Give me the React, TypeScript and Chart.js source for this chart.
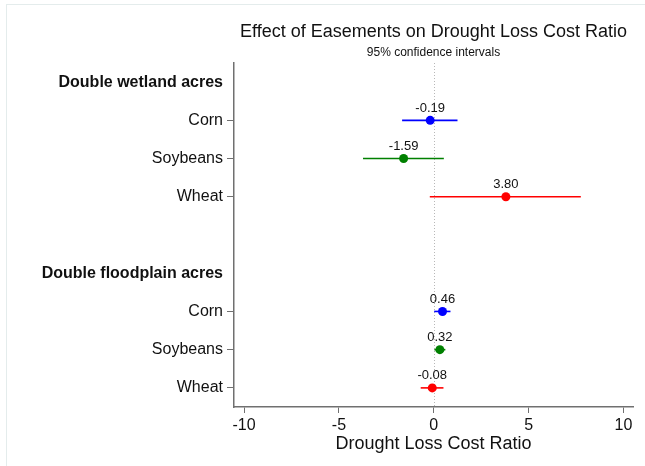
import React, { useEffect, useRef } from 'react';
import { Chart, registerables } from 'chart.js';

Chart.register(...registerables);

// ---- Data ----
const ROW_LABELS = [
  'Double wetland acres',
  'Corn',
  'Soybeans',
  'Wheat',
  '',
  'Double floodplain acres',
  'Corn',
  'Soybeans',
  'Wheat',
];
const HEADER_ROWS = [0, 5];
const CROPS = ['Corn', 'Soybeans', 'Wheat'];
const CROP_COLORS = ['#0000ff', '#008000', '#ff0000'];

const WETLAND_ROWS = [1, 2, 3];
const WETLAND_EST = [-0.19, -1.59, 3.8];
const WETLAND_LOW = [-1.67, -3.73, -0.21];
const WETLAND_HIGH = [1.25, 0.53, 7.75];

const FLOOD_ROWS = [6, 7, 8];
const FLOOD_EST = [0.46, 0.32, -0.08];
const FLOOD_LOW = [0.02, 0.03, -0.69];
const FLOOD_HIGH = [0.88, 0.61, 0.51];

const X_TICKS = [-10, -5, 0, 5, 10];
const X_MIN = -10.53;
const X_MAX = 10.5;

const TITLE = 'Effect of Easements on Drought Loss Cost Ratio';
const SUBTITLE = '95% confidence intervals';
const X_TITLE = 'Drought Loss Cost Ratio';

const FONT = "'Liberation Sans', Arial, Helvetica, sans-serif";
const TEXT = '#111111';
const AXIS = '#707070';

const zeroLinePlugin = {
  id: 'zeroLine',
  beforeDatasetsDraw(chart: any) {
    const { ctx, chartArea, scales } = chart;
    const x = Math.round(scales.x.getPixelForValue(0)) + 0.5;
    ctx.save();
    ctx.strokeStyle = '#b8b8b8';
    ctx.lineWidth = 1;
    ctx.setLineDash([1, 2]);
    ctx.beginPath();
    ctx.moveTo(x, chartArea.top);
    ctx.lineTo(x, chartArea.bottom);
    ctx.stroke();
    ctx.restore();
  },
};

const frameAndLabelsPlugin = {
  id: 'frameAndLabels',
  beforeDraw(chart: any) {
    const { ctx } = chart;
    ctx.save();
    ctx.strokeStyle = '#e4ecec';
    ctx.lineWidth = 1;
    ctx.strokeRect(6.5, 4.5, 800, 600);
    ctx.restore();
  },
  afterDatasetsDraw(chart: any) {
    const { ctx } = chart;
    ctx.save();
    ctx.font = `13px ${FONT}`;
    ctx.fillStyle = TEXT;
    ctx.textAlign = 'center';
    ctx.textBaseline = 'middle';
    chart.data.datasets.forEach((ds: any, i: number) => {
      if (!ds.isEstimate) return;
      const meta = chart.getDatasetMeta(i);
      meta.data.forEach((el: any, j: number) => {
        const v = ds.data[j].x as number;
        ctx.fillText(v.toFixed(2), el.x, el.y - 12);
      });
    });
    ctx.restore();
  },
};

export default function App() {
  const ref = useRef<HTMLCanvasElement | null>(null);

  useEffect(() => {
    if (!ref.current) return;
    Chart.defaults.font.family = FONT;
    Chart.defaults.color = TEXT;

    const pointSets = CROPS.map((crop, i) => ({
      label: crop,
      isEstimate: true,
      data: [
        { x: WETLAND_EST[i], y: WETLAND_ROWS[i] },
        { x: FLOOD_EST[i], y: FLOOD_ROWS[i] },
      ],
      backgroundColor: CROP_COLORS[i],
      borderColor: CROP_COLORS[i],
      borderWidth: 0,
      pointRadius: 4.5,
      showLine: false,
    }));

    const ciSets: any[] = [];
    CROPS.forEach((crop, i) => {
      ciSets.push({
        label: `${crop} wetland CI`,
        data: [
          { x: WETLAND_LOW[i], y: WETLAND_ROWS[i] },
          { x: WETLAND_HIGH[i], y: WETLAND_ROWS[i] },
        ],
        borderColor: CROP_COLORS[i],
        borderWidth: 1.6,
        pointRadius: 0,
        showLine: true,
      });
      ciSets.push({
        label: `${crop} floodplain CI`,
        data: [
          { x: FLOOD_LOW[i], y: FLOOD_ROWS[i] },
          { x: FLOOD_HIGH[i], y: FLOOD_ROWS[i] },
        ],
        borderColor: CROP_COLORS[i],
        borderWidth: 1.6,
        pointRadius: 0,
        showLine: true,
      });
    });

    const chart = new Chart(ref.current, {
      type: 'scatter',
      data: { datasets: [...pointSets, ...ciSets] as any },
      options: {
        responsive: false,
        animation: false,
        events: [],
        layout: { padding: { left: 40, right: 12, top: 10, bottom: 13 } },
        plugins: {
          legend: { display: false },
          tooltip: { enabled: false },
          title: {
            display: true,
            text: TITLE,
            fullSize: false,
            color: TEXT,
            font: { size: 18, weight: 'normal', lineHeight: 1.2 },
            padding: { top: 11, bottom: 3 },
          },
          subtitle: {
            display: true,
            text: SUBTITLE,
            fullSize: false,
            color: TEXT,
            font: { size: 12, weight: 'normal', lineHeight: 1.2 },
            padding: { top: 0, bottom: 3 },
          },
        } as any,
        scales: {
          x: {
            type: 'linear',
            min: X_MIN,
            max: X_MAX,
            afterBuildTicks: (s: any) => {
              s.ticks = X_TICKS.map((v) => ({ value: v }));
            },
            ticks: {
              autoSkip: false,
              maxRotation: 0,
              padding: 5,
              color: TEXT,
              font: { size: 16, lineHeight: 1 },
              callback: (v: any) => String(v),
            },
            grid: { drawOnChartArea: false, tickLength: 6, tickColor: AXIS, tickWidth: 1 },
            border: { color: AXIS, width: 1.5 },
            title: {
              display: true,
              text: X_TITLE,
              color: TEXT,
              font: { size: 18, lineHeight: 1 },
              padding: { top: -4, bottom: 0 },
            },
          },
          y: {
            type: 'linear',
            min: -0.5,
            max: 8.5,
            reverse: true,
            afterBuildTicks: (s: any) => {
              s.ticks = ROW_LABELS.map((_, i) => ({ value: i }));
            },
            afterFit: (s: any) => {
              s.width = 194;
            },
            ticks: {
              autoSkip: false,
              padding: 4,
              color: TEXT,
              callback: (v: any) => ROW_LABELS[v as number] ?? '',
              font: (ctx: any) => ({
                size: 16,
                weight: HEADER_ROWS.includes(ctx.tick?.value) ? 'bold' : 'normal',
              }),
            },
            grid: {
              drawOnChartArea: false,
              tickLength: 7,
              tickWidth: 1,
              tickColor: (ctx: any) => {
                const v = ctx.tick?.value;
                return HEADER_ROWS.includes(v) || ROW_LABELS[v] === '' ? 'rgba(0,0,0,0)' : AXIS;
              },
            },
            border: { color: AXIS, width: 1.5 },
          },
        } as any,
      },
      plugins: [zeroLinePlugin, frameAndLabelsPlugin],
    });

    return () => chart.destroy();
  }, []);

  return (
    <div style={{ position: 'fixed', left: 0, top: 0, width: 645, height: 466, background: '#fff' }}>
      <canvas ref={ref} width={645} height={466} style={{ display: 'block' }} />
    </div>
  );
}
